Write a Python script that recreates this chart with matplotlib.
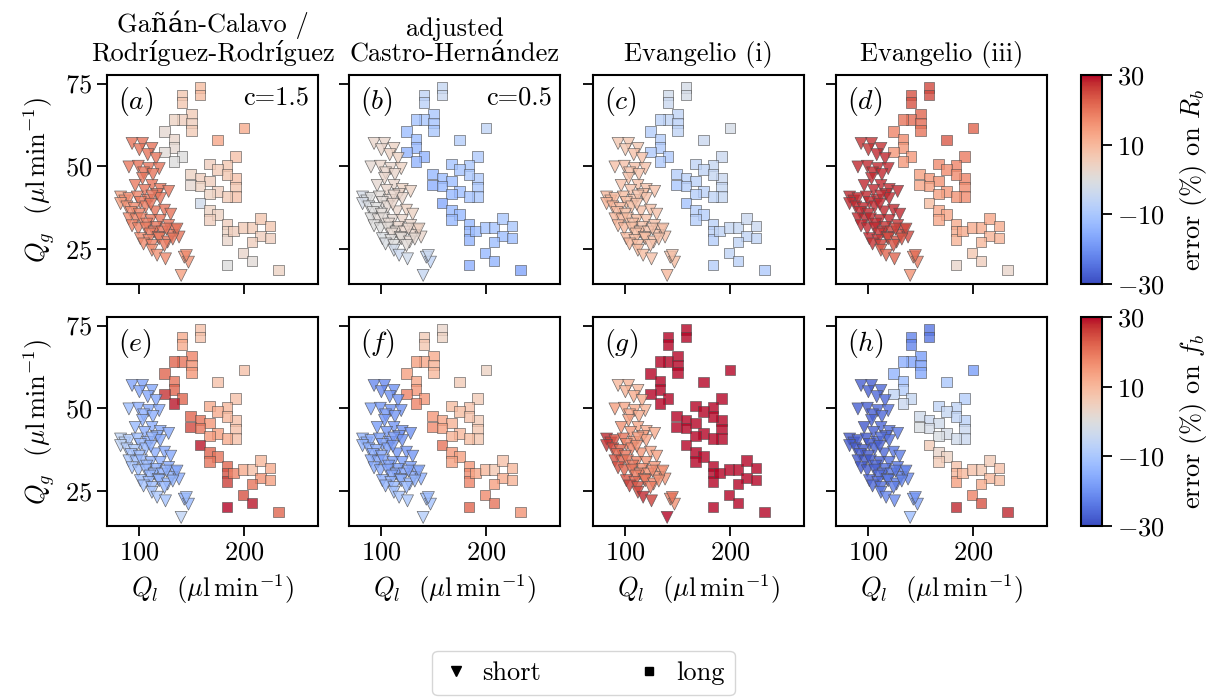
import numpy as np
import matplotlib
matplotlib.use("Agg")
import matplotlib.pyplot as plt
from matplotlib.lines import Line2D
from matplotlib.colors import Normalize

plt.rcParams['font.family'] = ['cmr10', 'DejaVu Serif']
plt.rcParams['mathtext.fontset'] = 'cm'
plt.rcParams['axes.formatter.use_mathtext'] = True
plt.rcParams['font.size'] = 19

# ---------------- data ----------------
Ql_long = [158, 158, 141, 141, 150, 141, 133, 150, 150, 124, 200, 133, 175, 133, 124, 141, 133,
           192, 167, 184, 175, 149, 158, 167, 192, 184, 149, 158, 175, 192, 192, 184, 167, 158,
           167, 175, 167, 184, 184, 184, 190, 199, 208, 216, 225, 216, 225, 208, 199, 208, 184, 233]
Qg_long = [73.8, 71.6, 71.5, 69.3, 65.8, 64.1, 64.1, 63.1, 60.8, 60.6, 61.6, 58.3, 57.9, 55.7, 54.3, 53.0, 51.5,
           53.0, 50.7, 50.3, 49.0, 47.7, 46.5, 45.5, 46.3, 47.5, 44.3, 44.0, 42.4, 43.7, 40.9, 40.9, 41.6, 38.9,
           36.6, 35.4, 33.9, 32.6, 30.4, 27.8, 30.4, 31.4, 31.4, 34.2, 31.9, 28.9, 28.3, 27.1, 23.8, 21.3, 20.1, 18.6]

Ql_short = [93, 103, 112, 100, 108, 116,
            90, 99, 109, 119, 104, 113,
            103, 96, 112, 105, 120, 128, 117,
            82, 86, 90, 98, 108, 120, 112, 101,
            82, 88, 95, 106, 115, 124, 130, 92, 100, 111,
            90, 97, 102, 111, 120, 128, 134, 107, 116, 93,
            99, 106, 114, 122, 131, 138, 126, 136, 110, 118,
            101, 109, 119, 127, 104, 112, 132, 124,
            112, 117, 125, 143, 147, 145,
            140]
Qg_short = [56.9, 56.9, 55.4, 55.0, 53.5, 52.3,
            49.8, 50.0, 49.3, 49.3, 48.0, 47.5,
            46.3, 44.2, 44.2, 42.7, 43.0, 42.4, 41.5,
            40.7, 39.5, 40.2, 40.7, 39.7, 40.2, 41.0, 39.0,
            38.7, 37.7, 37.2, 37.7, 36.2, 36.7, 35.5, 36.0, 35.5, 38.5,
            34.1, 33.8, 34.1, 33.6, 33.6, 32.1, 30.6, 32.5, 31.5, 32.0,
            31.1, 31.3, 30.1, 30.1, 29.1, 28.6, 31.0, 31.0, 29.5, 28.5,
            28.1, 27.6, 28.1, 27.1, 26.5, 26.0, 28.0, 26.0,
            24.6, 23.1, 22.0, 22.5, 21.0, 23.0,
            17.0]

# errors (%) for long (squares), panels a..h
err_long_a = [9, 9, 7, 7, 6, 5, 4, 5, 6, 2, 12, 3, 13, 2, 1, 0, 0,
              8, 5, 7, 6, 4, 5, 5, 8, 7, 2, 4, 5, 7, 8, 6, 4, -3,
              4, 4, 5, 5, 4, 3, 5, 6, 6, 7, 7, 5, 5, 5, 3, 1, 0, 4]
err_long_b = [-5, -4, -6, -7, -10, -10, -11, -11, -10, -12, -6, -12, -8, -13, -14, -14, -14,
              -9, -11, -10, -11, -13, -12, -12, -9, -10, -15, -13, -12, -10, -10, -11, -13, -16,
              -13, -13, -13, -13, -13, -14, -12, -11, -11, -10, -10, -12, -12, -12, -13, -14, -15, -17]
err_long_c = [-2, -2, -3, -4, -6, -6, -7, -7, -6, -8, -2, -8, -4, -9, -9, -9, -9,
              -4, -6, -5, -6, -8, -7, -7, -4, -5, -10, -8, -7, -5, -5, -6, -8, -11,
              -8, -8, -8, -7, -7, -8, -6, -5, -5, -4, -4, -6, -6, -6, -6, -7, -8, -9]
err_long_d = [25, 25, 24, 24, 22, 21, 20, 21, 20, 18, 22, 17, 23, 15, 15, 15, 15,
              19, 17, 18, 17, 14, 15, 16, 18, 17, 13, 14, 15, 17, 17, 16, 14, 9,
              13, 13, 13, 12, 12, 11, 12, 12, 12, 13, 12, 11, 11, 10, 7, 5, 3, 3]
err_long_e = [8, 8, 12, 12, 18, 20, 22, 16, 15, 22, 8, 20, 8, 22, 27, 22, 29,
              8, 12, 10, 12, 22, 20, 15, 8, 10, 25, 20, 14, 8, 8, 12, 15, 29,
              22, 20, 20, 22, 24, 26, 18, 12, 8, 10, 12, 16, 14, 20, 24, 29, 30, 22]
err_long_f = [3, 4, 6, 7, 12, 13, 14, 11, 10, 14, 4, 13, 6, 15, 18, 15, 18,
              6, 9, 8, 9, 15, 13, 11, 6, 8, 17, 14, 10, 7, 7, 9, 11, 20,
              15, 14, 14, 15, 17, 18, 13, 10, 7, 8, 10, 12, 11, 14, 17, 20, 22, 16]
err_long_g = [30] * 52
err_long_h = [-24, -24, -22, -22, -18, -17, -15, -18, -16, -14, -18, -12, -10, -8, -6, -5, -4,
              -8, -6, -6, -5, -3, -4, -3, -7, -6, -1, -2, -2, -4, -4, -3, -1, 6,
              3, 4, 6, 8, 10, 14, 10, 8, 7, 6, 8, 10, 9, 12, 18, 24, 28, 28]

# errors (%) for short (triangles), panels a..h
err_short_a = [20, 20, 20, 20, 20, 20, 19, 20, 20, 20, 20, 20, 20, 19, 20, 20, 20, 20, 20,
               14, 16, 17, 18, 20, 20, 20, 19, 14, 16, 17, 19, 20, 20, 20, 17, 18, 20,
               17, 18, 18, 19, 20, 20, 20, 19, 20, 18, 18, 19, 20, 20, 20, 20, 20, 20, 19, 20,
               17, 18, 19, 20, 17, 18, 20, 19, 16, 16, 17, 15, 16, 17, 14]
err_short_b = [3, 3, 4, 3, 4, 4, 2, 3, 3, 4, 3, 3, 3, 2, 3, 3, 4, 4, 3,
               -2, -1, 0, 1, 2, 3, 3, 1, -2, -1, 0, 2, 3, 4, 4, 0, 1, 3,
               0, 1, 1, 2, 3, 3, 4, 2, 3, 0, 0, 1, 2, 3, 3, 3, 3, 4, 2, 2,
               -1, 0, 1, 2, -1, 0, 2, 1, -3, -4, -3, -5, -6, -4, -5]
err_short_c = [7, 7, 7, 7, 8, 8, 8, 8, 8, 8, 8, 8, 8, 8, 8, 8, 8, 8, 8,
               10, 10, 10, 9, 8, 8, 8, 9, 11, 11, 10, 9, 8, 8, 8, 10, 9, 8,
               10, 10, 9, 9, 8, 8, 8, 9, 8, 10, 10, 9, 9, 8, 8, 8, 8, 8, 9, 8,
               10, 9, 9, 8, 10, 9, 8, 8, 9, 9, 8, 8, 9, 8, 10]
err_short_d = [27, 27, 27, 27, 28, 28, 28, 28, 28, 28, 28, 28, 28, 28, 28, 28, 28, 28, 28,
               28, 28, 28, 28, 28, 28, 28, 28, 28, 28, 28, 28, 28, 28, 28, 28, 28, 28,
               28, 28, 28, 28, 28, 27, 26, 28, 27, 28, 28, 28, 27, 26, 25, 25, 26, 25, 27, 26,
               28, 27, 25, 24, 27, 26, 24, 24, 23, 22, 22, 18, 19, 21, 16]
err_short_e = [-17, -17, -16, -17, -16, -16, -12, -15, -16, -16, -15, -15, -15, -13, -15, -15, -16, -16, -15,
               -6, -7, -9, -12, -15, -16, -15, -13, -6, -8, -10, -13, -15, -16, -16, -11, -13, -15,
               -10, -12, -13, -14, -15, -16, -16, -14, -15, -11, -12, -13, -14, -15, -15, -15, -15, -16, -14, -14,
               -12, -13, -14, -14, -11, -12, -14, -13, -10, -10, -11, -15, -13, -12, -6]
err_short_f = [-21, -21, -20, -21, -20, -20, -17, -19, -20, -20, -19, -19, -19, -18, -19, -19, -20, -20, -19,
               -14, -15, -16, -18, -19, -20, -19, -18, -14, -15, -16, -18, -19, -19, -19, -16, -17, -19,
               -16, -17, -17, -18, -18, -18, -17, -18, -18, -16, -16, -17, -17, -17, -16, -15, -17, -16, -17, -16,
               -15, -15, -15, -14, -14, -13, -14, -13, -11, -11, -10, -12, -11, -12, -8]
err_short_g = [10, 11, 10, 11, 12, 12, 14, 13, 12, 11, 13, 12, 14, 16, 13, 15, 12, 12, 14,
               28, 26, 24, 20, 15, 13, 15, 18, 27, 25, 22, 18, 15, 13, 14, 22, 20, 16,
               24, 22, 20, 18, 16, 15, 14, 20, 17, 24, 22, 20, 18, 16, 15, 15, 17, 16, 19, 17,
               24, 22, 20, 17, 26, 24, 16, 19, 25, 28, 26, 18, 16, 20, 30]
err_short_h = [-27, -27, -26, -27, -26, -26, -27, -27, -26, -25, -27, -26, -27, -28, -26, -27, -25, -24, -26,
               -28, -28, -28, -28, -27, -25, -26, -28, -28, -28, -28, -27, -26, -24, -23, -28, -28, -27,
               -28, -28, -28, -27, -25, -24, -22, -27, -25, -28, -28, -27, -26, -24, -23, -21, -24, -22, -26, -24,
               -27, -26, -24, -23, -26, -25, -22, -23, -24, -22, -21, -18, -17, -19, -12]

err_long = [err_long_a, err_long_b, err_long_c, err_long_d,
            err_long_e, err_long_f, err_long_g, err_long_h]
err_short = [err_short_a, err_short_b, err_short_c, err_short_d,
             err_short_e, err_short_f, err_short_g, err_short_h]

col_titles = ['Gañán-Calavo /\nRodríguez-Rodríguez', 'adjusted\nCastro-Hernández',
              'Evangelio (i)', 'Evangelio (iii)']
panel_labels = ['a', 'b', 'c', 'd', 'e', 'f', 'g', 'h']
c_labels = {0: 'c=1.5', 1: 'c=0.5'}
cbar_labels = ['error (%) on $R_b$', 'error (%) on $f_b$']
cbar_ticks = [-30, -10, 10, 30]
unit = '($\\mu$l$\\,$min$^{-1}$)'

# ---------------- figure ----------------
W, H = 1222, 698
fig = plt.figure(figsize=(W / 100, H / 100), dpi=100)


def rect(l, t, w, h):
    return [l / W, 1 - (t + h) / H, w / W, h / H]


col_left = [107, 349, 593, 836]
row_top = [75, 317]
pw, ph = 211, 209
cmap = plt.get_cmap('coolwarm')
norm = Normalize(-30, 30)

for r in range(2):
    for c in range(4):
        k = r * 4 + c
        ax = fig.add_axes(rect(col_left[c], row_top[r], pw, ph))
        ax.scatter(Ql_long, Qg_long, c=err_long[k], cmap=cmap, norm=norm, marker='s',
                   s=58, edgecolors='0.3', linewidths=0.5, alpha=0.8)
        ax.scatter(Ql_short, Qg_short, c=err_short[k], cmap=cmap, norm=norm, marker='v',
                   s=75, edgecolors='0.3', linewidths=0.5, alpha=0.8)
        ax.set_xlim(69, 271)
        ax.set_ylim(14.4, 77.6)
        ax.set_xticks([100, 200])
        ax.set_yticks([25, 50, 75])
        ax.tick_params(direction='out', length=7, width=1.3, labelsize=19)
        for sp in ax.spines.values():
            sp.set_linewidth(1.5)
        if r == 0:
            ax.set_xticklabels([])
            ax.set_title(col_titles[c], fontsize=19, pad=10, linespacing=1.05)
        else:
            ax.set_xlabel('$Q_l$  ' + unit, fontsize=19, labelpad=6)
        if c == 0:
            ax.set_ylabel('$Q_g$  ' + unit, fontsize=19, labelpad=6)
        else:
            ax.set_yticklabels([])
        ax.text(0.05, 0.95, '$(%s)$' % panel_labels[k], transform=ax.transAxes,
                fontsize=20, ha='left', va='top')
        if r == 0 and c in c_labels:
            ax.text(0.96, 0.95, c_labels[c], transform=ax.transAxes,
                    fontsize=19, ha='right', va='top')

    cax = fig.add_axes(rect(1081, row_top[r], 21, ph))
    sm = plt.cm.ScalarMappable(norm=norm, cmap=cmap)
    cb = fig.colorbar(sm, cax=cax, ticks=cbar_ticks)
    cb.outline.set_linewidth(1.5)
    cax.tick_params(direction='out', length=7, width=1.3, labelsize=19)
    cb.set_label(cbar_labels[r], fontsize=19, labelpad=10)

handles = [Line2D([], [], marker='v', color='k', linestyle='none', markersize=7),
           Line2D([], [], marker='s', color='k', linestyle='none', markersize=6)]
fig.legend(handles, ['short', 'long'], loc='center', ncol=2,
           bbox_to_anchor=(583.5 / W, 1 - 673 / H), fontsize=19, frameon=True,
           handlelength=1.0, handletextpad=0.5, columnspacing=3.6,
           borderpad=0.4, edgecolor='0.8', fancybox=True)

fig.savefig('out.png', dpi=100)
